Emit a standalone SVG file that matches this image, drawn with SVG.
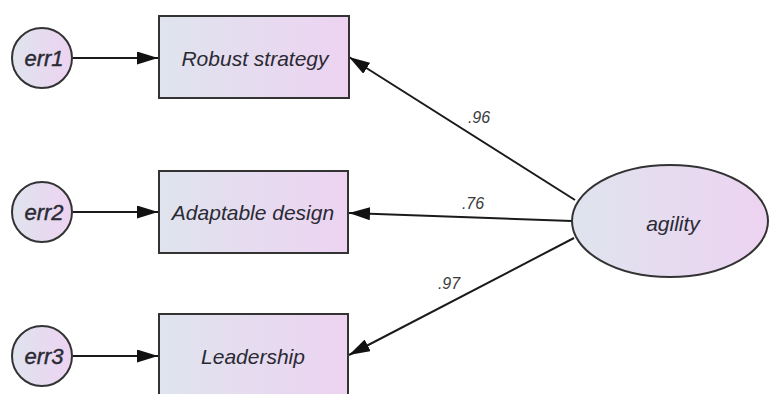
<svg xmlns="http://www.w3.org/2000/svg" width="769" height="394" viewBox="0 0 769 394">
<defs>
<linearGradient id="g" x1="0" y1="0" x2="1" y2="0">
<stop offset="0" stop-color="#dfe4ee"/>
<stop offset="1" stop-color="#edd3f1"/>
</linearGradient>
<marker id="ah" viewBox="0 0 21 13" refX="21" refY="6.5" markerWidth="21" markerHeight="13" markerUnits="userSpaceOnUse" orient="auto">
<path d="M0,0 L21,6.5 L0,13 z" fill="#111"/>
</marker>
</defs>
<style>
.n{fill:url(#g);stroke:#333;stroke-width:2}
.t{font-family:"Liberation Sans",Arial,sans-serif;font-style:italic;fill:#2a2a33;text-anchor:middle;dominant-baseline:central}
.big{font-size:21px}
.err{font-size:22px;stroke:#2a2a33;stroke-width:0.4}
.lbl{font-family:"Liberation Sans",Arial,sans-serif;font-style:italic;font-size:16px;fill:#3a3a3a;text-anchor:middle;dominant-baseline:central}
.c{stroke:#1a1a1a;stroke-width:2;fill:none;marker-end:url(#ah)}
</style>
<rect width="769" height="394" fill="#fff"/>
<g id="connectors">
<line class="c" x1="73" y1="58" x2="158" y2="58"/>
<line class="c" x1="73" y1="212" x2="158" y2="212"/>
<line class="c" x1="73" y1="356" x2="158" y2="356"/>
<line class="c" x1="575" y1="200" x2="349" y2="57"/>
<line class="c" x1="572" y1="221" x2="349" y2="213"/>
<line class="c" x1="574" y1="238" x2="349" y2="355"/>
<text class="lbl" x="479" y="117">.96</text>
<text class="lbl" x="473" y="203">.76</text>
<text class="lbl" x="449" y="283">.97</text>
</g>
<g id="err1"><circle class="n" cx="42" cy="58" r="30"/><text class="t err" x="44" y="58">err1</text></g>
<g id="err2"><circle class="n" cx="42" cy="212" r="30"/><text class="t err" x="44" y="212">err2</text></g>
<g id="err3"><circle class="n" cx="42" cy="356" r="30"/><text class="t err" x="44" y="356">err3</text></g>
<g id="robust"><rect class="n" x="159" y="16" width="190" height="82"/><text class="t big" x="255" y="58">Robust strategy</text></g>
<g id="adaptable"><rect class="n" x="159" y="171" width="189" height="82"/><text class="t big" x="253" y="212">Adaptable design</text></g>
<g id="leadership"><rect class="n" x="159" y="314" width="189" height="84"/><text class="t big" x="253" y="356">Leadership</text></g>
<g id="agility"><ellipse class="n" cx="670" cy="221" rx="98" ry="56"/><text class="t big" x="673" y="223">agility</text></g>
</svg>
